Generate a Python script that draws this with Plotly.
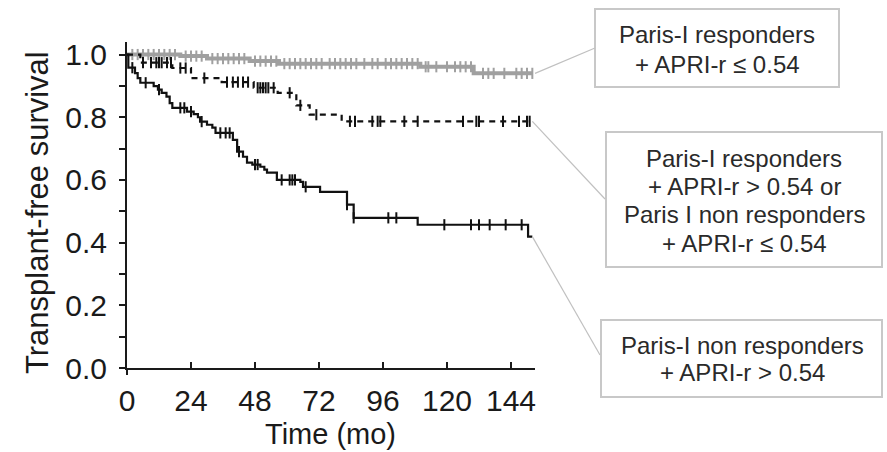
import plotly.graph_objects as go

# ---------------- data ----------------
x_ticks = [0, 24, 48, 72, 96, 120, 144]
y_ticks = [0.0, 0.2, 0.4, 0.6, 0.8, 1.0]
y_tick_text = ["0.0", "0.2", "0.4", "0.6", "0.8", "1.0"]

# Group 1: Paris-I responders + APRI-r <= 0.54 (gray)
g1_times = [0, 20, 30, 46, 57, 110, 130]
g1_surv = [1.0, 0.995, 0.987, 0.979, 0.971, 0.961, 0.940]
g1_end = 152
g1_censor = [2, 4, 6, 8, 10, 12, 14, 16, 18, 22, 24, 26, 28, 32, 34, 36, 38, 40,
             42, 44, 48, 50, 52, 54, 56, 59, 61, 63, 65, 67, 69, 71, 73, 76, 78,
             80, 82, 84, 86, 89, 92, 94, 97, 99, 101, 103, 105, 107, 109, 112,
             113, 116, 120, 123, 125, 127, 129, 133.5, 135.5, 137.5, 141.5, 146,
             148, 150, 152]

# Group 2: intermediate (dashed black)
g2_times = [0, 5, 17, 24, 35.5, 47.5, 56.5, 63.5, 68.5, 80.5]
g2_surv = [1.0, 0.974, 0.957, 0.925, 0.912, 0.894, 0.878, 0.838, 0.808, 0.787]
g2_end = 152
g2_censor = [6, 9, 11, 12, 13, 15, 16.5, 20, 22, 29, 37.5, 39.7, 41.6, 43.5,
             45.4, 49, 50, 51, 52, 53, 55, 61, 65, 71, 83.6, 85.5, 92, 94, 95,
             104, 109, 126, 131, 132, 141, 147, 150, 151]

# Group 3: Paris-I non responders + APRI-r > 0.54 (solid black)
g3_times = [0, 0.5, 3, 4, 5, 10, 11.6, 13, 14.8, 16, 17, 22.5, 25, 26.6, 27.4,
            30, 32, 33.2, 39.7, 41.3, 43.5, 45, 47, 50, 51.5, 52.5, 56.2, 65,
            66, 72.4, 82.5, 85, 109, 150.4]
g3_surv = [1.0, 0.958, 0.941, 0.925, 0.91, 0.899, 0.888, 0.878, 0.866, 0.845,
           0.83, 0.818, 0.81, 0.80, 0.786, 0.776, 0.767, 0.75, 0.728, 0.69,
           0.674, 0.655, 0.649, 0.642, 0.633, 0.623, 0.60, 0.594, 0.578, 0.562,
           0.521, 0.479, 0.457, 0.419]
g3_end = 152
g3_censor = [2, 7, 12, 20, 21.5, 24, 28, 35, 37, 38.5, 42, 48, 49, 58, 61, 62,
             63, 67, 82.5, 85, 98, 101, 119, 129, 132, 136, 142, 148]

labels = [
    ["Paris-I responders", "+ APRI-r \u2264 0.54"],
    ["Paris-I responders", "+ APRI-r > 0.54 or", "Paris I non responders",
     "+ APRI-r \u2264 0.54"],
    ["Paris-I non responders", "+ APRI-r > 0.54"],
]

# ---------------- helpers ----------------
def surv_at(t, times, surv):
    s = surv[0]
    for ti, si in zip(times, surv):
        if ti <= t:
            s = si
    return s


def step_xy(times, surv, end):
    return list(times) + [end], list(surv) + [surv[-1]]


FONT = "Arial, Liberation Sans, Helvetica, sans-serif"
X_RANGE = [0, 153]
Y_RANGE = [0, 1.04]
L, R, T, B = 127, 352, 42, 84
W, H = 887, 452
PW, PH = W - L - R, H - T - B
AX = "#1a1a1a"


def px2paper_x(px):
    return (px - L) / PW


def px2paper_y(py):
    return (H - B - py) / PH


def data2paper_x(x):
    return (x - X_RANGE[0]) / (X_RANGE[1] - X_RANGE[0])


def data2paper_y(y):
    return (y - Y_RANGE[0]) / (Y_RANGE[1] - Y_RANGE[0])


fig = go.Figure()

groups = [
    (g1_times, g1_surv, g1_end, g1_censor, "#a0a0a0", 4, "solid"),
    (g2_times, g2_surv, g2_end, g2_censor, "#111111", 2.2, "6px,5px"),
    (g3_times, g3_surv, g3_end, g3_censor, "#111111", 2.2, "solid"),
]

for times, surv, end, cens, col, lw, dash in groups:
    xs, ys = step_xy(times, surv, end)
    fig.add_trace(go.Scatter(x=xs, y=ys, mode="lines", line_shape="hv",
                             line=dict(color=col, width=lw, dash=dash),
                             showlegend=False, hoverinfo="skip", cliponaxis=False))
    fig.add_trace(go.Scatter(x=cens, y=[surv_at(c, times, surv) for c in cens],
                             mode="markers",
                             marker=dict(symbol="line-ns", size=8,
                                         line=dict(color=col, width=2)),
                             showlegend=False, hoverinfo="skip", cliponaxis=False))

fig.update_layout(
    width=W, height=H,
    margin=dict(l=L, r=R, t=T, b=B),
    plot_bgcolor="white", paper_bgcolor="white",
    font=dict(family=FONT, color=AX),
    showlegend=False,
)

fig.update_xaxes(range=X_RANGE, tickvals=x_ticks, ticks="inside", ticklen=6,
                 tickwidth=1.5, tickcolor=AX, showline=True,
                 linecolor=AX, linewidth=2, showgrid=False,
                 zeroline=False, tickfont=dict(size=30, family=FONT),
                 ticklabelstandoff=5)
fig.update_yaxes(range=Y_RANGE, tickvals=y_ticks, ticktext=y_tick_text,
                 ticks="outside", ticklen=6, tickwidth=1.5,
                 tickcolor=AX, showline=True, linecolor=AX,
                 linewidth=2, showgrid=False, zeroline=False,
                 tickfont=dict(size=30, family=FONT), ticklabelstandoff=6,
                 minor=dict(ticks="outside", ticklen=6, tickwidth=1.5,
                            tickcolor=AX, dtick=0.1, tick0=0))

annotations = []
# axis titles
annotations.append(dict(text="Transplant-free survival", textangle=-90,
                        x=px2paper_x(37), y=px2paper_y(213), xref="paper",
                        yref="paper", showarrow=False, xanchor="center",
                        yanchor="middle",
                        font=dict(size=31, family=FONT, color=AX)))
annotations.append(dict(text="Time (mo)", x=px2paper_x(330),
                        y=px2paper_y(434), xref="paper", yref="paper",
                        showarrow=False, xanchor="center", yanchor="middle",
                        font=dict(size=29, family=FONT, color=AX)))

# label boxes (pixel geometry)
boxes = [
    dict(x0=595, x1=839, y0=9, y1=87, lines_y=[35, 64], cx=717),
    dict(x0=606, x1=882, y0=132, y1=267, lines_y=[158, 186, 214, 243], cx=744),
    dict(x0=601, x1=882, y0=320, y1=397, lines_y=[345, 373], cx=742),
]
shapes = []
for b, lab in zip(boxes, labels):
    shapes.append(dict(type="rect", xref="paper", yref="paper",
                       x0=px2paper_x(b["x0"]), x1=px2paper_x(b["x1"]),
                       y0=px2paper_y(b["y1"]), y1=px2paper_y(b["y0"]),
                       line=dict(color="#c8c8c8", width=2),
                       fillcolor="white", layer="below"))
    for ly, txt in zip(b["lines_y"], lab):
        annotations.append(dict(text=txt, x=px2paper_x(b["cx"]),
                                y=px2paper_y(ly), xref="paper", yref="paper",
                                showarrow=False, xanchor="center",
                                yanchor="middle",
                                font=dict(size=24, family=FONT,
                                          color="#2a2a2a")))

# connector lines from curve ends to boxes
ends = [(g1_end + 1, g1_surv[-1], 595, 48),
        (g2_end, g2_surv[-1], 605, 199),
        (g3_end, g3_surv[-1], 600, 355)]
for ex, ey, bx, by in ends:
    shapes.append(dict(type="line", xref="paper", yref="paper",
                       x0=data2paper_x(ex), y0=data2paper_y(ey),
                       x1=px2paper_x(bx), y1=px2paper_y(by),
                       line=dict(color="#c0c0c0", width=1.2)))

# small axis overhangs at the origin
shapes.append(dict(type="line", xref="paper", yref="paper",
                   x0=0, x1=0, y0=0, y1=px2paper_y(375),
                   line=dict(color=AX, width=2)))
shapes.append(dict(type="line", xref="paper", yref="paper",
                   x0=px2paper_x(121), x1=0, y0=0, y1=0,
                   line=dict(color=AX, width=2)))

fig.update_layout(annotations=annotations, shapes=shapes)

fig.write_html("out.html")
